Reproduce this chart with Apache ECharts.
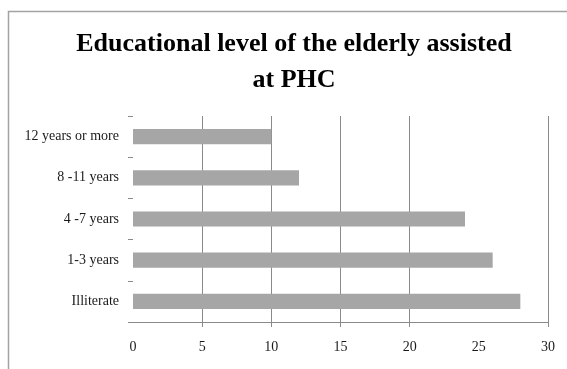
<!DOCTYPE html>
<html>
<head>
<meta charset="utf-8">
<script src="https://cdn.jsdelivr.net/npm/echarts@6/dist/echarts.min.js"></script>
<style>
  html, body { margin: 0; padding: 0; background: #fff; }
  #chart { width: 567px; height: 369px; }
</style>
</head>
<body>
<div id="chart"></div>
<script>
// Education categories, bottom to top
const categories = ['Illiterate', '1-3 years', '4 -7 years', '8 -11 years', '12 years or more'];
// Number of elderly in each category
const counts = [28, 26, 24, 12, 10];
// Value-axis labels and the positions that carry a tick / grid line
const xLabelValues = [0, 5, 10, 15, 20, 25, 30];
const xGridValues = [5, 10, 15, 20, 30];

const FONT = '"Liberation Serif", "Times New Roman", serif';
const GRID_GRAY = '#8a8a8a';

const chart = echarts.init(document.getElementById('chart'), null, { renderer: 'canvas' });

chart.setOption({
  backgroundColor: '#ffffff',
  animation: false,
  title: {
    text: 'Educational level of the elderly assisted\nat PHC',
    left: 289,
    top: 21,
    textAlign: 'center',
    textStyle: {
      fontFamily: FONT,
      fontWeight: 'bold',
      fontSize: 26,
      lineHeight: 36,
      color: '#000000'
    }
  },
  graphic: [{
    type: 'rect',
    silent: true,
    z: -1,
    shape: { x: 8.5, y: 11.5, width: 620, height: 420 },
    style: { fill: 'none', stroke: '#a3a3a3', lineWidth: 1.5 }
  }],
  grid: { left: 133, right: 19, top: 116, bottom: 47 },
  xAxis: {
    type: 'value',
    min: 0,
    max: 30,
    interval: 5,
    axisLine: { show: true, lineStyle: { color: GRID_GRAY, width: 1 } },
    axisTick: {
      show: true,
      length: 5,
      customValues: xGridValues,
      lineStyle: { color: GRID_GRAY, width: 1 }
    },
    splitLine: { show: true, lineStyle: { color: GRID_GRAY, width: 1 } },
    axisLabel: {
      customValues: xLabelValues,
      margin: 18,
      fontFamily: FONT,
      fontSize: 14,
      color: '#1a1a1a'
    }
  },
  yAxis: {
    type: 'category',
    data: categories,
    axisLine: { show: false },
    axisTick: { show: true, length: 5, lineStyle: { color: GRID_GRAY, width: 1 } },
    axisLabel: {
      margin: 14,
      fontFamily: FONT,
      fontSize: 14,
      color: '#1a1a1a'
    }
  },
  series: [{
    type: 'bar',
    data: counts,
    barWidth: '37%',
    itemStyle: { color: '#a6a6a6' }
  }]
});
</script>
</body>
</html>
